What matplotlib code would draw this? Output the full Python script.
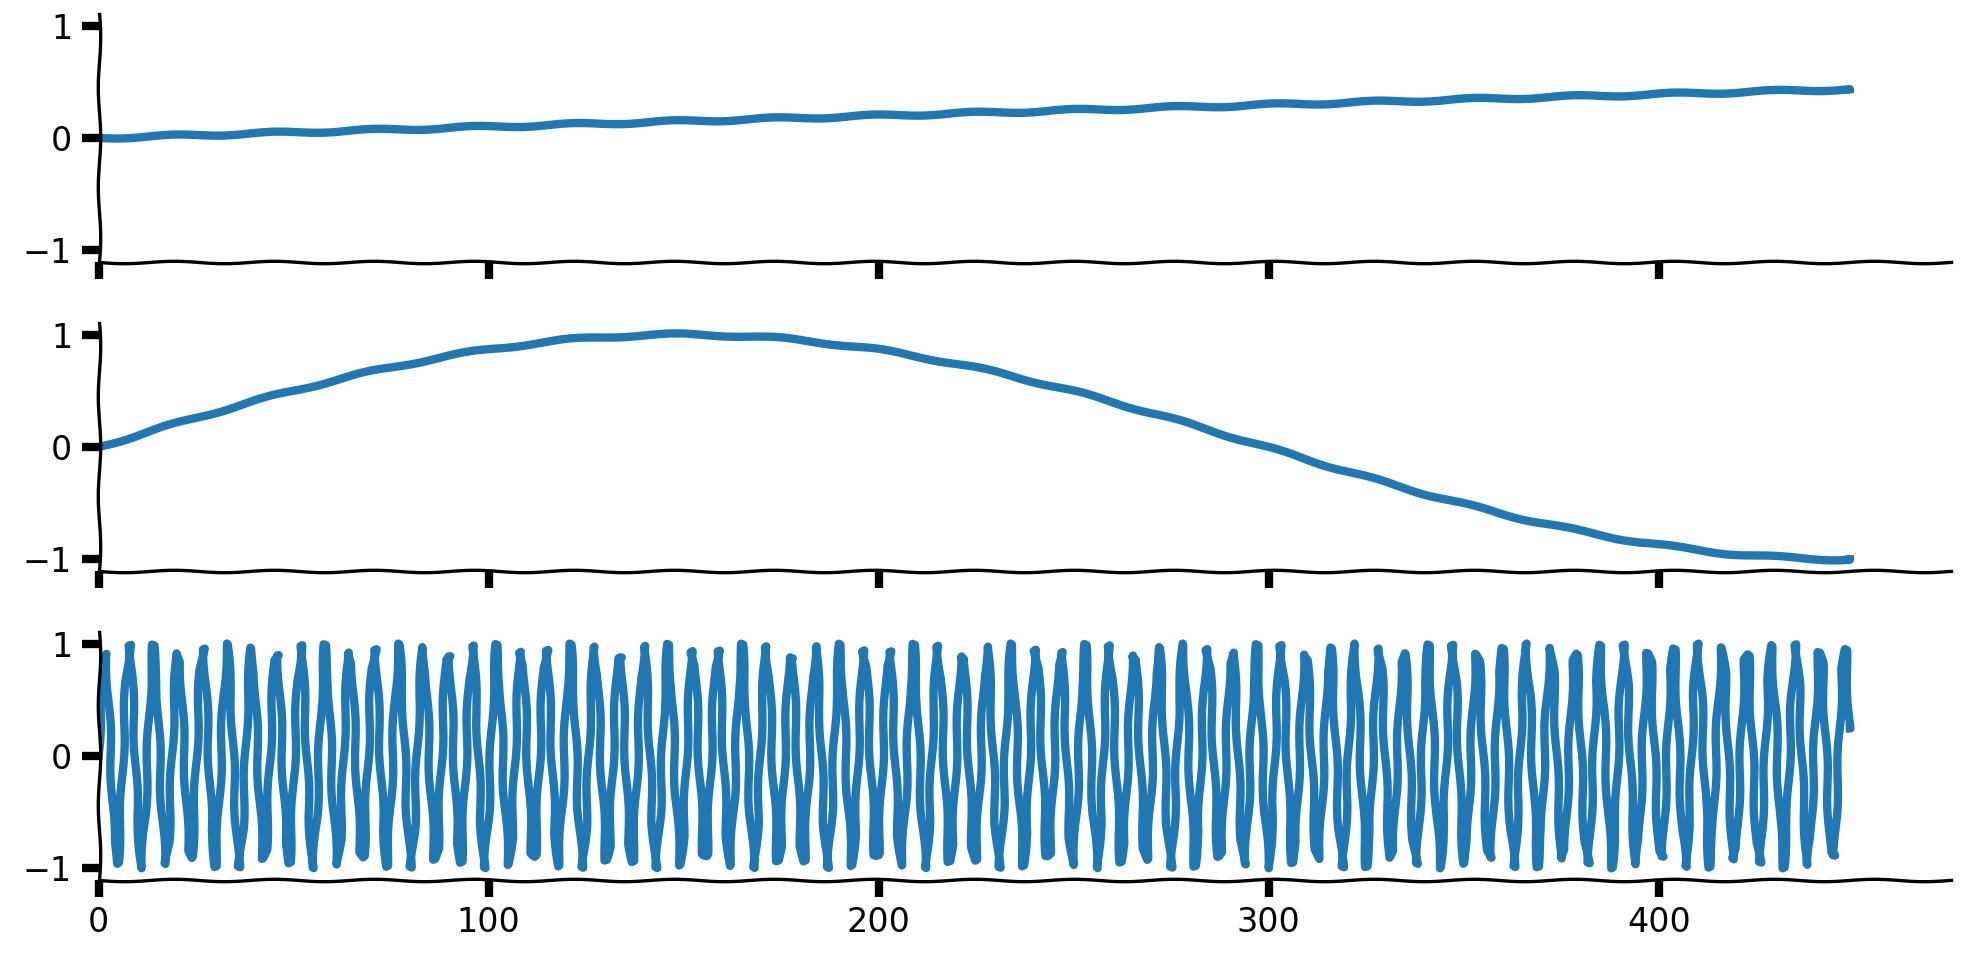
import numpy as np
import matplotlib
matplotlib.use("Agg")
import matplotlib.pyplot as plt

plt.rcParams['path.sketch'] = (1.2, 100, 1)

n_points = 450
freq = [0.001, 0.0105, 1.0]   # each panel is sin(freq * index)
ytick_vals = [-1, 0, 1]
xtick_vals = [0, 100, 200, 300, 400]

x = np.arange(n_points)
fig, axes = plt.subplots(3, 1, sharex=True, figsize=(9.855, 4.78), dpi=200)
for ax, f in zip(axes, freq):
    ax.plot(x, np.sin(f * x), lw=3, color='#1f77b4')
    ax.set_ylim(-1.1, 1.1)
    ax.set_xlim(0, 475)
    ax.set_yticks(ytick_vals)
    ax.set_xticks(xtick_vals)
    for s in ['top', 'right']:
        ax.spines[s].set_visible(False)
    for s in ['left', 'bottom']:
        ax.spines[s].set_linewidth(1.2)
    ax.tick_params(width=3, length=6, labelsize=12)
for ax in axes[:-1]:
    ax.tick_params(labelbottom=False)
fig.subplots_adjust(left=0.05, right=0.99, top=0.985, bottom=0.08, hspace=0.25)
fig.savefig("out.png")
